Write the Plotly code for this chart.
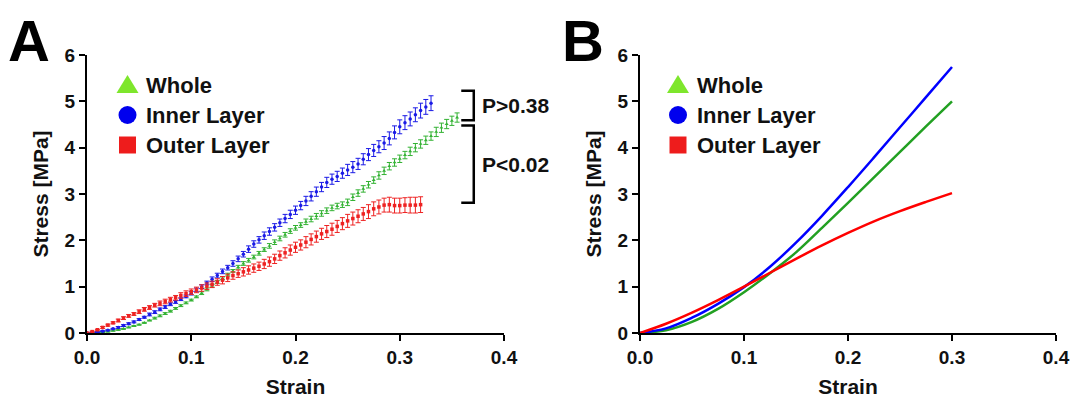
import plotly.graph_objects as go
from plotly.subplots import make_subplots

# panel A: measured means (SD) sampled every 0.005 strain
strain_a = [0.000, 0.005, 0.010, 0.015, 0.020, 0.025, 0.030, 0.035, 0.040, 0.045,
            0.050, 0.055, 0.060, 0.065, 0.070, 0.075, 0.080, 0.085, 0.090, 0.095,
            0.100, 0.105, 0.110, 0.115, 0.120, 0.125, 0.130, 0.135, 0.140, 0.145,
            0.150, 0.155, 0.160, 0.165, 0.170, 0.175, 0.180, 0.185, 0.190, 0.195,
            0.200, 0.205, 0.210, 0.215, 0.220, 0.225, 0.230, 0.235, 0.240, 0.245,
            0.250, 0.255, 0.260, 0.265, 0.270, 0.275, 0.280, 0.285, 0.290, 0.295,
            0.300, 0.305, 0.310, 0.315, 0.320, 0.325, 0.330, 0.335, 0.340, 0.345,
            0.350, 0.355]

whole_a = [0.00, 0.00, 0.01, 0.02, 0.03, 0.05, 0.07, 0.09, 0.12, 0.15,
           0.18, 0.22, 0.27, 0.32, 0.37, 0.42, 0.47, 0.53, 0.59, 0.65,
           0.71, 0.78, 0.86, 0.94, 1.02, 1.10, 1.18, 1.26, 1.34, 1.42,
           1.50, 1.57, 1.64, 1.72, 1.80, 1.88, 1.96, 2.04, 2.12, 2.20,
           2.27, 2.33, 2.40, 2.46, 2.52, 2.58, 2.64, 2.70, 2.74, 2.77,
           2.82, 2.93, 3.02, 3.11, 3.20, 3.30, 3.40, 3.50, 3.60, 3.68,
           3.76, 3.84, 3.92, 4.00, 4.08, 4.16, 4.25, 4.34, 4.43, 4.51,
           4.58, 4.65]
whole_sd = [0.00, 0.00, 0.01, 0.01, 0.01, 0.01, 0.01, 0.01, 0.01, 0.01,
            0.01, 0.01, 0.01, 0.02, 0.02, 0.02, 0.02, 0.02, 0.02, 0.02,
            0.02, 0.02, 0.03, 0.03, 0.03, 0.03, 0.03, 0.03, 0.03, 0.04,
            0.04, 0.04, 0.04, 0.04, 0.04, 0.05, 0.05, 0.05, 0.05, 0.05,
            0.05, 0.05, 0.06, 0.06, 0.06, 0.06, 0.06, 0.06, 0.06, 0.06,
            0.07, 0.07, 0.07, 0.07, 0.07, 0.07, 0.08, 0.08, 0.08, 0.08,
            0.08, 0.08, 0.09, 0.09, 0.09, 0.09, 0.09, 0.10, 0.10, 0.10,
            0.10, 0.10]

inner_a = [0.00, 0.01, 0.02, 0.04, 0.06, 0.09, 0.12, 0.16, 0.20, 0.24,
           0.29, 0.34, 0.40, 0.45, 0.51, 0.56, 0.62, 0.67, 0.73, 0.79,
           0.86, 0.93, 1.00, 1.08, 1.16, 1.24, 1.33, 1.41, 1.50, 1.60,
           1.70, 1.81, 1.92, 2.01, 2.10, 2.19, 2.28, 2.38, 2.47, 2.56,
           2.65, 2.75, 2.85, 2.95, 3.05, 3.15, 3.25, 3.32, 3.38, 3.45,
           3.52, 3.58, 3.65, 3.75, 3.85, 3.94, 4.02, 4.10, 4.20, 4.33,
           4.45, 4.54, 4.62, 4.71, 4.80, 4.88, 4.96]
inner_sd = [0.00, 0.01, 0.01, 0.01, 0.01, 0.01, 0.02, 0.02, 0.02, 0.02,
            0.02, 0.02, 0.03, 0.03, 0.03, 0.03, 0.03, 0.03, 0.03, 0.03,
            0.04, 0.04, 0.04, 0.04, 0.05, 0.05, 0.05, 0.05, 0.06, 0.06,
            0.06, 0.07, 0.07, 0.07, 0.08, 0.08, 0.08, 0.08, 0.09, 0.09,
            0.09, 0.09, 0.10, 0.10, 0.10, 0.10, 0.11, 0.11, 0.11, 0.11,
            0.12, 0.12, 0.12, 0.12, 0.13, 0.13, 0.13, 0.14, 0.14, 0.14,
            0.15, 0.15, 0.15, 0.15, 0.16, 0.16, 0.16]

outer_a = [0.00, 0.03, 0.07, 0.12, 0.17, 0.22, 0.27, 0.32, 0.37, 0.41,
           0.46, 0.51, 0.55, 0.60, 0.64, 0.68, 0.72, 0.76, 0.81, 0.85,
           0.89, 0.93, 0.97, 1.01, 1.05, 1.10, 1.14, 1.19, 1.24, 1.28,
           1.32, 1.36, 1.40, 1.44, 1.49, 1.54, 1.60, 1.67, 1.73, 1.79,
           1.85, 1.90, 1.96, 2.02, 2.08, 2.14, 2.19, 2.24, 2.30, 2.36,
           2.42, 2.47, 2.52, 2.57, 2.62, 2.68, 2.72, 2.76, 2.77, 2.75,
           2.75, 2.76, 2.76, 2.76, 2.77]
outer_sd = [0.00, 0.01, 0.01, 0.02, 0.02, 0.02, 0.03, 0.03, 0.03, 0.03,
            0.04, 0.04, 0.04, 0.04, 0.05, 0.05, 0.05, 0.05, 0.06, 0.06,
            0.06, 0.06, 0.07, 0.07, 0.07, 0.07, 0.08, 0.08, 0.08, 0.08,
            0.09, 0.09, 0.09, 0.09, 0.10, 0.10, 0.10, 0.10, 0.11, 0.11,
            0.11, 0.11, 0.12, 0.12, 0.12, 0.12, 0.13, 0.13, 0.13, 0.13,
            0.14, 0.14, 0.14, 0.14, 0.15, 0.15, 0.15, 0.15, 0.16, 0.16,
            0.16, 0.16, 0.17, 0.17, 0.17]

# panel B: model curves
strain_b = [0.000, 0.025, 0.050, 0.075, 0.100, 0.125, 0.150, 0.175, 0.200, 0.225, 0.250, 0.275, 0.300]
whole_b = [0.00, 0.06, 0.24, 0.52, 0.88, 1.29, 1.74, 2.27, 2.81, 3.36, 3.91, 4.46, 5.00]
inner_b = [0.00, 0.10, 0.33, 0.63, 0.99, 1.43, 1.95, 2.53, 3.15, 3.79, 4.44, 5.09, 5.74]
outer_b = [0.00, 0.20, 0.44, 0.71, 1.00, 1.30, 1.60, 1.89, 2.16, 2.41, 2.63, 2.83, 3.02]

names = ["Whole", "Inner Layer", "Outer Layer"]
symbols = ["triangle-up", "circle", "square"]
legend_colors = ["#7ee62c", "#0000ee", "#ee1c1c"]
data_colors = ["#33b233", "#1a1ae6", "#ee2222"]
line_colors = ["#22a022", "#0000ff", "#ff0000"]

FONT = "Liberation Sans, Arial, sans-serif"

# body margin is zeroed in the page, so figure pixels == screen pixels
W, H = 1071, 402
L, R, T, B = 87, 15, 55, 69
PW, PH = W - L - R, H - T - B


def px_x(px):
    return (px - L) / PW


def px_y(py):
    return (H - B - py) / PH


fig = make_subplots(rows=1, cols=2)

series_a = [(whole_a, whole_sd), (inner_a, inner_sd), (outer_a, outer_sd)]
for (vals, sd), sym, col, name in zip(series_a, symbols, data_colors, names):
    fig.add_trace(go.Scatter(
        x=strain_a[:len(vals)], y=vals, mode="markers", name=name,
        marker=dict(symbol=sym, size=3.5, color=col),
        error_y=dict(type="data", array=sd, color=col, thickness=1, width=2.5),
        showlegend=False, cliponaxis=False,
    ), row=1, col=1)

for vals, col, name in zip([whole_b, inner_b, outer_b], line_colors, names):
    fig.add_trace(go.Scatter(
        x=strain_b, y=vals, mode="lines", name=name,
        line=dict(color=col, width=2.5, shape="spline", smoothing=1.0),
        showlegend=False,
    ), row=1, col=2)

# hand-drawn legends (big symbols like the original figure)
rows_py = [85, 115, 145]
for mx, tx in [(127.5, 146), (678, 697)]:
    for py, name, sym, col in zip(rows_py, names, symbols, legend_colors):
        if sym == "triangle-up":
            path = (f"M {px_x(mx - 11)} {px_y(py + 8)} L {px_x(mx + 11)} {px_y(py + 8)} "
                    f"L {px_x(mx)} {px_y(py - 10)} Z")
            fig.add_shape(type="path", xref="paper", yref="paper", path=path,
                          fillcolor=col, line=dict(width=0))
        elif sym == "circle":
            fig.add_shape(type="circle", xref="paper", yref="paper",
                          x0=px_x(mx - 9), x1=px_x(mx + 9), y0=px_y(py + 9), y1=px_y(py - 9),
                          fillcolor=col, line=dict(width=0))
        else:
            fig.add_shape(type="rect", xref="paper", yref="paper",
                          x0=px_x(mx - 8.5), x1=px_x(mx + 8.5), y0=px_y(py + 8.5), y1=px_y(py - 8.5),
                          fillcolor=col, line=dict(width=0))
        fig.add_annotation(text=f"<b>{name}</b>", xref="paper", yref="paper",
                           x=px_x(tx - 2), y=px_y(py), xanchor="left", yanchor="middle",
                           showarrow=False, font=dict(family=FONT, size=22, color="#111"))

axis_common = dict(
    showline=True, linecolor="black", linewidth=2.2, ticks="outside",
    ticklen=6, tickwidth=2.2, tickcolor="black", showgrid=False, zeroline=False,
    tickfont=dict(family=FONT, size=19, color="#111", weight="bold"), mirror=False,
    automargin=False,
)

fig.update_xaxes(range=[0, 0.4], dtick=0.1, tickformat=".1f",
                 title=dict(text="<b>Strain</b>", font=dict(family=FONT, size=21, color="#111"), standoff=12),
                 **axis_common)
fig.update_yaxes(range=[0, 6], dtick=1,
                 title=dict(text="<b>Stress [MPa]</b>", font=dict(family=FONT, size=21, color="#111"), standoff=10),
                 **axis_common)
fig.update_xaxes(domain=[0, px_x(504)], row=1, col=1)
fig.update_xaxes(domain=[px_x(640), 1.0], row=1, col=2)

fig.update_layout(
    width=W, height=H,
    margin=dict(l=L, r=R, t=T, b=B, autoexpand=False),
    paper_bgcolor="white", plot_bgcolor="white",
    font=dict(family=FONT, size=19, color="#111"),
    showlegend=False,
)

# panel letters
for letter, px in [("A", 6), ("B", 560)]:
    fig.add_annotation(text=f"<b>{letter}</b>", xref="paper", yref="paper",
                       x=px_x(px), y=px_y(6), xanchor="left", yanchor="top",
                       showarrow=False, font=dict(family=FONT, size=58, color="black"))

# significance brackets (panel A)
brackets = [(5.23, 4.59, "P>0.38"), (4.48, 2.81, "P<0.02")]
for top, bottom, label in brackets:
    fig.add_shape(type="path", xref="x", yref="y",
                  path=f"M 0.359 {top} L 0.371 {top} L 0.371 {bottom} L 0.359 {bottom}",
                  line=dict(color="black", width=2.5))
    fig.add_annotation(text=f"<b>{label}</b>", xref="x", yref="y",
                       x=0.377, y=(top + bottom) / 2, xanchor="left", yanchor="middle",
                       showarrow=False, font=dict(family=FONT, size=21, color="#111"))

fig.write_html("out.html", config={"displayModeBar": False},
               post_script="document.body.style.margin='0px';document.body.style.overflow='hidden';")
